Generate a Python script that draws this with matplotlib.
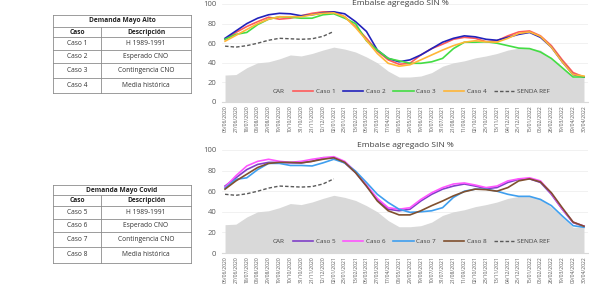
import matplotlib
matplotlib.use("Agg")
import matplotlib.pyplot as plt
import numpy as np

plt.rcParams['font.family'] = ['Open Sans', 'DejaVu Sans']

# ---- data ----
fechas = ["06/06/2020", "27/06/2020", "18/07/2020", "08/08/2020", "29/08/2020",
          "19/09/2020", "10/10/2020", "31/10/2020", "21/11/2020", "12/12/2020",
          "02/01/2021", "23/01/2021", "13/02/2021", "06/03/2021", "27/03/2021",
          "17/04/2021", "08/05/2021", "29/05/2021", "19/06/2021", "10/07/2021",
          "31/07/2021", "21/08/2021", "11/09/2021", "02/10/2021", "23/10/2021",
          "13/11/2021", "04/12/2021", "25/12/2021", "15/01/2022", "05/02/2022",
          "26/02/2022", "19/03/2022", "09/04/2022", "30/04/2022"]

car = [27.5, 28, 35, 40, 41, 44, 48, 47, 49.5, 53, 56, 54, 51, 46, 40, 31.5, 25.5,
       25.5, 26.5, 30, 36.5, 40, 42, 45, 47, 49.5, 53, 55, 55, 53, 44.5, 35, 25, 25.5]

senda_ref = [57, 56, 57.5, 60, 63, 65, 64.5, 64, 64.5, 67, 72] + [np.nan] * 23

caso1 = [64, 71, 77, 82, 86.5, 84.5, 85.5, 88, 90.5, 92, 92, 87, 77, 65, 52, 43, 38.5,
         39.5, 48, 54.5, 59, 64, 66, 65, 61.5, 62.5, 67.5, 71.5, 72.5, 67.5, 57.5, 43, 30, 25.5]
caso2 = [65, 72.5, 80, 85.5, 89, 90.5, 90, 88, 89, 91, 92, 90, 82, 72, 53, 44.5, 41,
         43, 48, 54.5, 61, 65, 67.5, 66.5, 64, 63, 66, 69, 71, 66, 56, 41, 28, 25.5]
caso3 = [64, 69, 71, 79, 84.5, 87, 86.5, 85.5, 85.5, 89, 90, 85.5, 80, 62.5, 53, 44.5, 42,
         39.5, 39.5, 41, 44.5, 54.5, 61, 61, 61.5, 60, 57.5, 55, 54.5, 51, 44.5, 35, 25.5, 25.5]
caso4 = [62, 68, 74, 80, 84.5, 87, 87, 87, 89, 90.5, 91, 87, 76, 63, 49.5, 39.5, 36.5,
         38, 43, 48, 53, 57.5, 61, 62.5, 61.5, 61, 65, 70, 71.5, 67, 56, 41, 28, 26.5]

caso5 = [65, 73, 81, 86, 88, 88, 87.5, 87.5, 89, 92.5, 92.5, 87.5, 78, 65, 52, 42.5, 41,
         42.5, 50.5, 57, 62, 65, 67, 65, 62.5, 63.5, 68.5, 71.5, 72, 68.5, 57, 42.5, 29.5, 26]
caso6 = [64, 75, 84.5, 89, 91, 89, 88, 89, 91, 92.5, 93.5, 89, 79, 66, 53, 44, 42.5,
         44, 52, 58.5, 63.5, 67, 68, 66, 63.5, 65, 70, 72, 73, 70, 58, 43, 30, 26]
caso7 = [63, 71.5, 73, 81, 87, 87, 85, 85, 84.5, 87.5, 91, 87.5, 79.5, 68.5, 57, 49, 42.5,
         39.5, 40, 41, 44, 54, 60, 62, 62, 60, 57, 55, 55, 52, 46, 36, 26.5, 25]
caso8 = [62, 70, 76.5, 83, 87, 88, 88, 87.5, 89, 91, 92.5, 88, 78, 65, 50.5, 41, 37,
         37, 41, 46, 50.5, 55.5, 59.5, 62, 61.5, 60, 63.5, 70, 72, 69, 58.5, 44, 30, 26]

tabla_alto = [["Caso 1", "H 1989-1991"], ["Caso 2", "Esperado CNO"],
              ["Caso 3", "Contingencia CNO"], ["Caso 4", "Media histórica"]]
tabla_covid = [["Caso 5", "H 1989-1991"], ["Caso 6", "Esperado CNO"],
               ["Caso 7", "Contingencia CNO"], ["Caso 8", "Media histórica"]]

W, H = 589, 286
fig = plt.figure(figsize=(W / 100, H / 100), dpi=100)


def draw_chart(ax, series, title=None):
    x = np.arange(len(fechas))
    ax.fill_between(x, car, 0, color="#d9d9d9", lw=0, label="CAR", zorder=1)
    for vals, name, col in series:
        ax.plot(x, vals, color=col, lw=1.2, label=name, zorder=3)
    ax.plot(x, senda_ref, color="#595959", lw=1.0, ls=(0, (2.5, 1.5)),
            label="SENDA REF", zorder=3)
    ax.set_xlim(-0.28, 33.37)
    ax.set_ylim(0, 100)
    ax.set_yticks(range(0, 101, 20))
    ax.yaxis.grid(True, color="#ececec", lw=0.5)
    ax.set_axisbelow(True)
    for s in ["top", "right", "left"]:
        ax.spines[s].set_visible(False)
    ax.spines["bottom"].set_color("#d9d9d9")
    ax.set_xticks(x)
    ax.set_xticklabels(fechas, rotation=90, fontsize=3.6, color="#595959")
    ax.tick_params(axis="y", labelsize=5.5, colors="#595959", length=0, pad=4)
    ax.tick_params(axis="x", length=0, pad=2)
    if title:
        ax.set_title(title, fontsize=6, color="#404040", pad=2)
    ax.legend(loc="center", bbox_to_anchor=(0.486, 0.11), ncol=6, frameon=False,
              fontsize=4.6, handlelength=3.2, handletextpad=0.4, columnspacing=1.2,
              labelcolor="#404040")


ax1 = fig.add_axes([222 / W, 1 - 102 / H, 366 / W, 98 / H])
draw_chart(ax1, [(caso1, "Caso 1", "#ff5a5a"), (caso2, "Caso 2", "#2222bb"),
                 (caso3, "Caso 3", "#44dd44"), (caso4, "Caso 4", "#ffb638")])
fig.text(400 / W, 1.0, "Embalse agregado SIN %", ha="center", va="top",
         fontsize=6, color="#404040")

ax2 = fig.add_axes([222 / W, 1 - 253 / H, 366 / W, 103 / H])
draw_chart(ax2, [(caso5, "Caso 5", "#8040c8"), (caso6, "Caso 6", "#ff55ff"),
                 (caso7, "Caso 7", "#3f9fef"), (caso8, "Caso 8", "#80502e")],
           "Embalse agregado SIN %")

# ---- tables ----
axt = fig.add_axes([0, 0, 1, 1], zorder=-1)
axt.set_xlim(0, W)
axt.set_ylim(H, 0)
axt.axis("off")


def draw_table(titulo, filas, top, rows_y):
    left, mid, right = 53, 101, 191
    lc = "#8c8c8c"
    ys = [top] + rows_y
    for y in ys:
        axt.plot([left, right], [y, y], color=lc, lw=0.6)
    axt.plot([left, left], [ys[0], ys[-1]], color=lc, lw=0.6)
    axt.plot([right, right], [ys[0], ys[-1]], color=lc, lw=0.6)
    axt.plot([mid, mid], [ys[1], ys[-1]], color=lc, lw=0.6)
    fs = 4.8
    axt.text((left + right) / 2, (ys[0] + ys[1]) / 2, titulo, ha="center", va="center",
             fontsize=fs, fontweight="bold", color="#222222")
    axt.text((left + mid) / 2, (ys[1] + ys[2]) / 2, "Caso", ha="center", va="center",
             fontsize=fs, fontweight="bold", color="#222222")
    axt.text((mid + right) / 2, (ys[1] + ys[2]) / 2, "Descripción", ha="center", va="center",
             fontsize=fs, fontweight="bold", color="#222222")
    for i, (c, d) in enumerate(filas):
        yc = (ys[i + 2] + ys[i + 3]) / 2
        axt.text((left + mid) / 2, yc, c, ha="center", va="center", fontsize=fs, color="#333333")
        axt.text((mid + right) / 2, yc, d, ha="center", va="center", fontsize=fs, color="#333333")


draw_table("Demanda Mayo Alto", tabla_alto, 15, [27, 37, 50, 63, 78, 93])
draw_table("Demanda Mayo Covid", tabla_covid, 185, [195, 206, 219, 232, 247, 263])

fig.savefig("out.png", dpi=100)
